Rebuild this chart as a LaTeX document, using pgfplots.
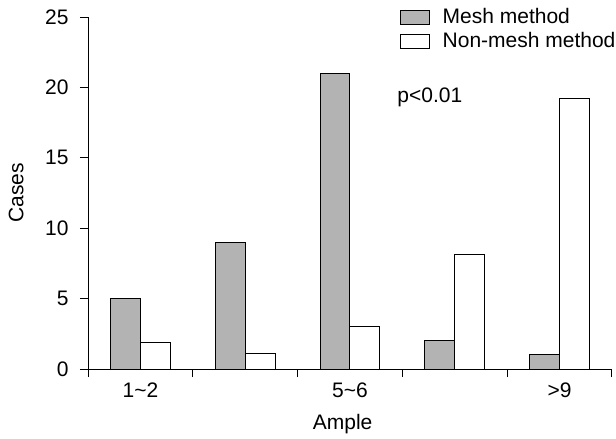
\documentclass[border=0pt]{standalone}
\usepackage{fontspec}
\setmainfont{Liberation Sans}
\usepackage{pgfplots}
\pgfplotsset{compat=1.18}
\definecolor{meshgray}{RGB}{179,179,179}
\begin{document}
\fontsize{10.5}{12.6}\selectfont
\begin{tikzpicture}
\useasboundingbox (-44pt,-35pt) rectangle (264pt,184.5pt);
\begin{axis}[
  at={(0pt,0pt)}, anchor=south west,
  scale only axis, width=262pt, height=176pt,
  xmin=0, xmax=5, ymin=0, ymax=25,
  enlargelimits=false,
  axis x line*=bottom, axis y line*=left,
  ybar=0pt, bar width=0.286,
  xtick={0,1,2,3,4,5}, xticklabels={},
  extra x ticks={0.5,2.5,4.5},
  extra x tick labels={1\textasciitilde 2,5\textasciitilde 6,>9},
  extra x tick style={major tick length=0pt},
  ytick={0,5,...,25},
  tick align=outside, major tick length=4pt,
  tick style={black, line width=0.5pt},
  axis line style={black, line width=0.5pt},
  /pgf/number format/assume math mode=true,
  ticklabel style={font=\fontsize{10.5}{12}\selectfont},
  xticklabel style={yshift=-3pt},
  yticklabel style={xshift=-2pt},
  ylabel={Cases},
  xlabel={Ample},
  label style={font=\fontsize{10.5}{12}\selectfont},
  ylabel style={at={(axis description cs:-0.137,0.5)}, anchor=center},
  xlabel style={at={(axis description cs:0.486,-0.157)}, anchor=center},
  legend style={at={(axis description cs:1.015,1.036)}, anchor=north east,
    draw=none, fill=none, inner sep=0pt, row sep=-1.5pt,
    font=\fontsize{10.5}{12}\selectfont},
  legend cell align=left,
  legend image code/.code={\path[draw=none,fill=none] (0pt,0pt) -- (19pt,0pt);\draw[#1] (0pt,-3.5pt) rectangle (14.5pt,3.5pt);},
]
\addplot[draw=black, line width=0.5pt, fill=meshgray] coordinates {(0.5,5) (1.5,9) (2.5,21) (3.5,2) (4.5,1)};
\addplot[draw=black, line width=0.5pt, fill=white] coordinates {(0.5,1.9) (1.5,1.1) (2.5,3) (3.5,8.1) (4.5,19.2)};
\legend{Mesh method, Non-mesh method}
\node[anchor=base west, inner sep=0pt] at (axis cs:2.949,18.96) {p<0.01};
\end{axis}
\end{tikzpicture}
\end{document}
